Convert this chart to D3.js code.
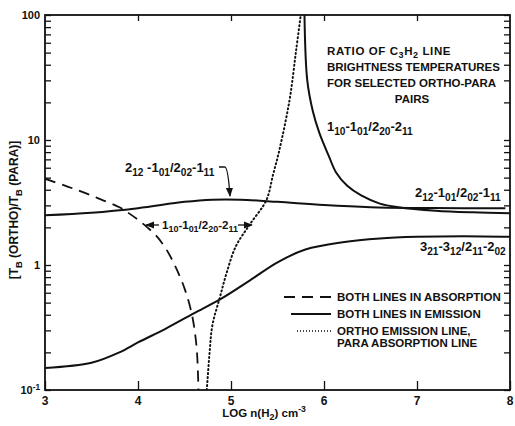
<!DOCTYPE html>
<html>
<head>
<meta charset="utf-8">
<script src="https://cdn.jsdelivr.net/npm/d3@7"></script>
<style>
  body { margin: 0; background: #fff; }
  svg { display: block; }
  text { font-family: "Liberation Sans", Arial, sans-serif; font-weight: bold; fill: #111; }
</style>
</head>
<body>
<div id="chart"></div>
<script>
// values (x = log n(H2), y = ratio)
var xTicks = [3, 4, 5, 6, 7, 8];
var yDecades = [0.1, 1, 10, 100];
var yDecadeLabels = ["10^{-1}", "1", "10", "100"];

var emis212X = [3, 3.5, 4, 4.5, 4.8, 5.1, 5.5, 6, 6.5, 7, 7.5, 7.95];
var emis212Y = [2.5, 2.62, 2.85, 3.2, 3.33, 3.33, 3.2, 3.02, 2.9, 2.86, 2.85, 2.85];

var emis110X = [5.79, 5.82, 5.88, 5.95, 6.05, 6.13, 6.25, 6.4, 6.6, 6.8, 7.2, 7.6, 8];
var emis110Y = [100, 30, 17, 11.4, 7.5, 5.5, 4.3, 3.6, 3.1, 2.9, 2.72, 2.64, 2.6];

var emis321X = [3, 3.5, 3.8, 4, 4.3, 4.6, 4.9, 5.2, 5.5, 5.8, 6.2, 6.6, 7, 7.5, 8];
var emis321Y = [0.15, 0.165, 0.2, 0.24, 0.31, 0.41, 0.54, 0.75, 1.05, 1.33, 1.52, 1.63, 1.68, 1.7, 1.68];

var absX = [3, 3.2, 3.4, 3.6, 3.8, 3.9, 4.0, 4.1, 4.2, 4.3, 4.4, 4.5, 4.58, 4.63, 4.65];
var absY = [4.9, 4.35, 3.85, 3.35, 2.9, 2.6, 2.3, 2.0, 1.7, 1.35, 0.98, 0.65, 0.4, 0.22, 0.1];

var mixX = [4.74, 4.77, 4.8, 4.88, 4.95, 5.05, 5.2, 5.38, 5.45, 5.52, 5.63, 5.7, 5.75];
var mixY = [0.1, 0.2, 0.33, 0.55, 0.85, 1.4, 2.1, 3.3, 5.2, 8.3, 21, 52, 100];

var legendLabels = ["BOTH LINES IN ABSORPTION", "BOTH LINES IN EMISSION", "ORTHO EMISSION LINE,|PARA ABSORPTION LINE"];
var titleLines = ["RATIO OF C_{3}H_{2}  LINE", "BRIGHTNESS TEMPERATURES", "FOR SELECTED ORTHO-PARA", "PAIRS"];

var width = 515, height = 426;
var margin = { top: 15, right: 5, bottom: 36, left: 45 };
var graphWidth = width - margin.left - margin.right,
  graphHeight = height - margin.top - margin.bottom;

var svg = d3.select("#chart").append("svg").attr("width", width).attr("height", height);
var graph = svg.append("g").attr("transform", "translate(" + margin.left + "," + margin.top + ")");

var x = d3.scaleLinear().domain([3, 8]).range([0, graphWidth]);
var y = d3.scaleLog().domain([0.1, 100]).range([graphHeight, 0]);

// text with _{sub} and ^{sup} markup
function richText(sel, str, size) {
  var parts = str.split(/(_\{[^}]*\}|\^\{[^}]*\})/);
  var shift = 0;
  parts.forEach(function (p) {
    if (!p) return;
    var t = sel.append("tspan");
    var target = 0, fs = size;
    if (p[0] === "_" && p[1] === "{") { target = size * 0.3; fs = size * 0.78; p = p.slice(2, -1); }
    else if (p[0] === "^" && p[1] === "{") { target = -size * 0.4; fs = size * 0.75; p = p.slice(2, -1); }
    t.attr("dy", target - shift).style("font-size", fs + "px").text(p);
    shift = target;
  });
}

graph.append("clipPath").attr("id", "clip").append("rect").attr("width", graphWidth).attr("height", graphHeight);

// frame
graph.append("rect").attr("width", graphWidth).attr("height", graphHeight)
  .attr("fill", "none").attr("stroke", "#111").attr("stroke-width", 1.8);

// log ticks on left and right
var minor = y.ticks();
var yl = graph.append("g").call(d3.axisLeft(y).tickValues(minor).tickSize(-6).tickFormat(""));
var yr = graph.append("g").attr("transform", "translate(" + graphWidth + ",0)")
  .call(d3.axisRight(y).tickValues(minor).tickSize(-6).tickFormat(""));
[yl, yr].forEach(function (g) {
  g.select(".domain").remove();
  g.selectAll(".tick line").attr("stroke", "#111").attr("stroke-width", 1.3);
});

// integer ticks bottom and top
var xb = graph.append("g").attr("transform", "translate(0," + graphHeight + ")")
  .call(d3.axisBottom(x).tickValues(xTicks).tickSize(-9).tickFormat(""));
var xt = graph.append("g").call(d3.axisTop(x).tickValues(xTicks.slice(1, -1)).tickSize(-6).tickFormat(""));
[xb, xt].forEach(function (g) {
  g.select(".domain").remove();
  g.selectAll(".tick line").attr("stroke", "#111").attr("stroke-width", 1.3);
});

xTicks.forEach(function (v) {
  graph.append("text").attr("x", x(v)).attr("y", graphHeight + 15)
    .attr("text-anchor", "middle").style("font-size", "12px").text(v);
});
yDecades.forEach(function (v, i) {
  var t = graph.append("text").attr("x", -5).attr("y", y(v) + 4)
    .attr("text-anchor", "end").style("font-size", "11px");
  richText(t, yDecadeLabels[i], 11);
});

// curves
var line = d3.line()
  .x(function (d) { return x(d[0]); })
  .y(function (d) { return y(d[1]); })
  .curve(d3.curveCatmullRom.alpha(0.5));
var curves = graph.append("g").attr("clip-path", "url(#clip)");
function addCurve(xs, ys, dash, w) {
  curves.append("path").datum(d3.zip(xs, ys)).attr("d", line)
    .attr("fill", "none").attr("stroke", "#111").attr("stroke-width", w)
    .attr("stroke-dasharray", dash).attr("stroke-linecap", dash === "1,3" ? "round" : "butt");
}
addCurve(emis212X, emis212Y, null, 2);
addCurve(emis110X, emis110Y, null, 2);
addCurve(emis321X, emis321Y, null, 2);
addCurve(absX, absY, "11,7", 1.8);
addCurve(mixX, mixY, "1,3", 2);

// title block
titleLines.forEach(function (s, i) {
  var t = svg.append("text").attr("x", i === 3 ? 412 : 327).attr("y", 55 + i * 16)
    .attr("text-anchor", i === 3 ? "middle" : "start").style("font-size", "11.5px")
    .style("letter-spacing", i === 0 ? "0.6px" : "0px");
  richText(t, s, 11.5);
});

// curve labels
function label(xp, yp, str, size) {
  var t = svg.append("text").attr("x", xp).attr("y", yp).style("font-size", size + "px");
  richText(t, str, size);
}
label(327, 131, "1_{10}-1_{01}/2_{20}-2_{11}", 13);
label(125, 172, "2_{12} -1_{01}/2_{02}-1_{11}", 13);
label(162, 229, "1_{10}-1_{01}/2_{20}-2_{11}", 11.5);
label(415, 197, "2_{12}-1_{01}/2_{02}-1_{11}", 13);
label(420, 251, "3_{21}-3_{12}/2_{11}-2_{02}", 13);

// arrows
svg.append("defs").append("marker").attr("id", "ah").attr("viewBox", "0 0 10 10")
  .attr("refX", 9).attr("refY", 5).attr("markerWidth", 7).attr("markerHeight", 7)
  .attr("orient", "auto-start-reverse")
  .append("path").attr("d", "M0,1 L10,5 L0,9 Z").attr("fill", "#111");
svg.append("path").attr("d", "M219,167 L225,167 Q228,168 230,196")
  .attr("fill", "none").attr("stroke", "#111").attr("stroke-width", 1.3).attr("marker-end", "url(#ah)");
svg.append("path").attr("d", "M159,225 L146,225")
  .attr("fill", "none").attr("stroke", "#111").attr("stroke-width", 1.3).attr("marker-end", "url(#ah)");
svg.append("path").attr("d", "M238,225 L252,225")
  .attr("fill", "none").attr("stroke", "#111").attr("stroke-width", 1.3).attr("marker-end", "url(#ah)");

// legend
var legend = svg.append("g");
var legendStyles = [
  { dash: "11,7", x0: 284, w: 1.8 },
  { dash: null, x0: 291, w: 2 },
  { dash: "1,2", x0: 297, w: 1.6 }
];
legendLabels.forEach(function (s, i) {
  var yy = 297 + i * 17;
  legend.append("line").attr("x1", legendStyles[i].x0).attr("x2", 331).attr("y1", yy).attr("y2", yy)
    .attr("stroke", "#111").attr("stroke-width", legendStyles[i].w).attr("stroke-dasharray", legendStyles[i].dash);
  s.split("|").forEach(function (part, j) {
    legend.append("text").attr("x", 337).attr("y", yy + 4 + j * 12).style("font-size", "11.5px").text(part);
  });
});

// axis titles
var xl = svg.append("text").attr("x", 264).attr("y", 417).attr("text-anchor", "middle").style("font-size", "11.5px");
richText(xl, "LOG  n(H_{2}) cm^{-3}", 11.5);
var ylab = svg.append("text").attr("transform", "translate(18,210) rotate(-90)")
  .attr("text-anchor", "middle").style("font-size", "12px");
richText(ylab, "[T_{B} (ORTHO)/T_{B} (PARA)]", 12);
</script>
</body>
</html>
